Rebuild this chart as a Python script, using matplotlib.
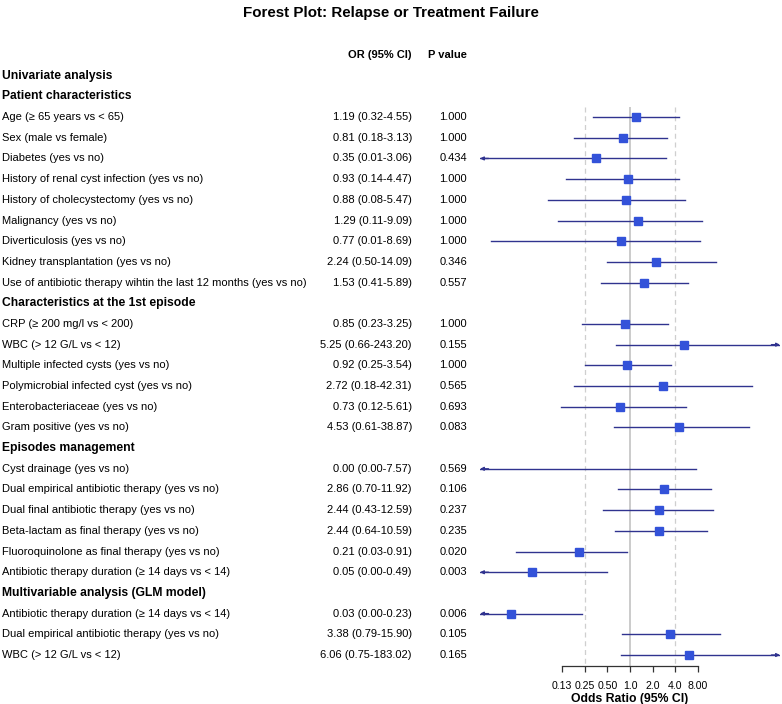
import matplotlib.pyplot as plt
import matplotlib.transforms as mtransforms

plt.rcParams['font.family'] = ['Liberation Sans', 'DejaVu Sans']

variables = [
    'Age (≥ 65 years vs < 65)',
    'Sex (male vs female)',
    'Diabetes (yes vs no)',
    'History of renal cyst infection (yes vs no)',
    'History of cholecystectomy (yes vs no)',
    'Malignancy (yes vs no)',
    'Diverticulosis (yes vs no)',
    'Kidney transplantation (yes vs no)',
    'Use of antibiotic therapy wihtin the last 12 months (yes vs no)',
    'CRP (≥ 200 mg/l vs < 200)',
    'WBC (> 12 G/L vs < 12)',
    'Multiple infected cysts (yes vs no)',
    'Polymicrobial infected cyst (yes vs no)',
    'Enterobacteriaceae (yes vs no)',
    'Gram positive (yes vs no)',
    'Cyst drainage (yes vs no)',
    'Dual empirical antibiotic therapy (yes vs no)',
    'Dual final antibiotic therapy (yes vs no)',
    'Beta-lactam as final therapy (yes vs no)',
    'Fluoroquinolone as final therapy (yes vs no)',
    'Antibiotic therapy duration (≥ 14 days vs < 14)',
    'Antibiotic therapy duration (≥ 14 days vs < 14)',
    'Dual empirical antibiotic therapy (yes vs no)',
    'WBC (> 12 G/L vs < 12)',
]
odds_ratio = [1.19, 0.81, 0.35, 0.93, 0.88, 1.29, 0.77, 2.24, 1.53,
              0.85, 5.25, 0.92, 2.72, 0.73, 4.53,
              0.00, 2.86, 2.44, 2.44, 0.21, 0.05,
              0.026, 3.38, 6.06]
ci_lower = [0.32, 0.18, 0.006, 0.14, 0.08, 0.11, 0.014, 0.50, 0.41,
            0.23, 0.66, 0.25, 0.18, 0.12, 0.61,
            0.00, 0.70, 0.43, 0.64, 0.03, 0.00,
            0.00, 0.79, 0.75]
ci_upper = [4.55, 3.13, 3.06, 4.47, 5.47, 9.09, 8.69, 14.09, 5.89,
            3.25, 243.20, 3.54, 42.31, 5.61, 38.87,
            7.57, 11.92, 12.59, 10.59, 0.91, 0.49,
            0.23, 15.90, 183.02]
p_values = [1.000, 1.000, 0.434, 1.000, 1.000, 1.000, 1.000, 0.346, 0.557,
            1.000, 0.155, 1.000, 0.565, 0.693, 0.083,
            0.569, 0.106, 0.237, 0.235, 0.020, 0.003,
            0.006, 0.105, 0.165]
# headings placed before the variable with this index
sections = {0: ['Univariate analysis', 'Patient characteristics'],
            9: ['Characteristics at the 1st episode'],
            15: ['Episodes management'],
            21: ['Multivariable analysis (GLM model)']}
tick_values = [0.125, 0.25, 0.5, 1, 2, 4, 8]
tick_labels = ['0.13', '0.25', '0.50', '1.0', '2.0', '4.0', '8.00']
clip_lo, clip_hi = 0.01, 100

W, H = 782, 704
row0_px, row_px = 55, 20.69
def px_to_row(y):
    return (y - row0_px) / row_px

fig = plt.figure(figsize=(W / 100, H / 100), dpi=100)
ax_top, ax_bot = 30, 666
ax = fig.add_axes([480 / W, 1 - ax_bot / H, 300 / W, (ax_bot - ax_top) / H])
ax.set_xscale('log', base=2)
ax.set_xlim(clip_lo, clip_hi)
ax.set_ylim(px_to_row(ax_bot), px_to_row(ax_top))
ax.patch.set_alpha(0)
for s in ['top', 'left', 'right']:
    ax.spines[s].set_visible(False)
ax.spines['bottom'].set_bounds(tick_values[0], tick_values[-1])
ax.spines['bottom'].set_linewidth(0.9)
ax.spines['bottom'].set_color('#333333')
ax.yaxis.set_visible(False)
ax.set_xticks(tick_values)
ax.set_xticklabels(tick_labels)
ax.minorticks_off()
ax.tick_params(axis='x', length=4.5, width=0.9, color='#333333', labelsize=7.6, pad=6)
ax.set_xlabel('Odds Ratio (95% CI)', fontsize=8.8, fontweight='bold', labelpad=2)

trans = mtransforms.blended_transform_factory(fig.transFigure, ax.transData)
fs = 8.05
line_col = '#30338f'
box_col = '#3352d9'

ax.text(412 / W, 0, 'OR (95% CI)', transform=trans, ha='right', va='center', fontsize=fs, fontweight='bold')
ax.text(467 / W, 0, 'P value', transform=trans, ha='right', va='center', fontsize=fs, fontweight='bold')

row = 1
for i, name in enumerate(variables):
    for head in sections.get(i, []):
        ax.text(2 / W, row, head, transform=trans, ha='left', va='center', fontsize=fs + 0.7, fontweight='bold')
        row += 1
    ax.text(2 / W, row, name, transform=trans, ha='left', va='center', fontsize=fs)
    ax.text(412 / W, row, '%.2f (%.2f-%.2f)' % (odds_ratio[i], ci_lower[i], ci_upper[i]),
            transform=trans, ha='right', va='center', fontsize=fs)
    ax.text(467 / W, row, '%.3f' % p_values[i], transform=trans, ha='right', va='center', fontsize=fs)

    lo = max(ci_lower[i], clip_lo)
    hi = min(ci_upper[i], clip_hi)
    ax.plot([lo, hi], [row, row], color=line_col, lw=1.0, zorder=3)
    arrow = dict(arrowstyle='-|>', color=line_col, lw=1.0, mutation_scale=5, shrinkA=0, shrinkB=0)
    if ci_lower[i] < clip_lo:
        ax.annotate('', xy=(clip_lo, row), xytext=(clip_lo * 1.3, row), arrowprops=arrow, zorder=3)
    if ci_upper[i] > clip_hi:
        ax.annotate('', xy=(clip_hi, row), xytext=(clip_hi / 1.3, row), arrowprops=arrow, zorder=3)
    if odds_ratio[i] > 0:
        ax.plot(odds_ratio[i], row, marker='s', ms=5.2, color=box_col, mec=box_col, zorder=4)
    row += 1

ytop = px_to_row(107)
ybot = px_to_row(ax_bot)
ax.vlines(1, ytop, ybot, color='#bdbdbd', lw=1.1, zorder=1)
ax.vlines([0.25, 4], ytop, ybot, color='#cfcfcf', lw=0.9, linestyles=(0, (4, 3)), zorder=1)

fig.text(391 / W, 1 - 13 / H, 'Forest Plot: Relapse or Treatment Failure',
         ha='center', va='center', fontsize=10.9, fontweight='bold')

fig.savefig('out.png', dpi=100)
